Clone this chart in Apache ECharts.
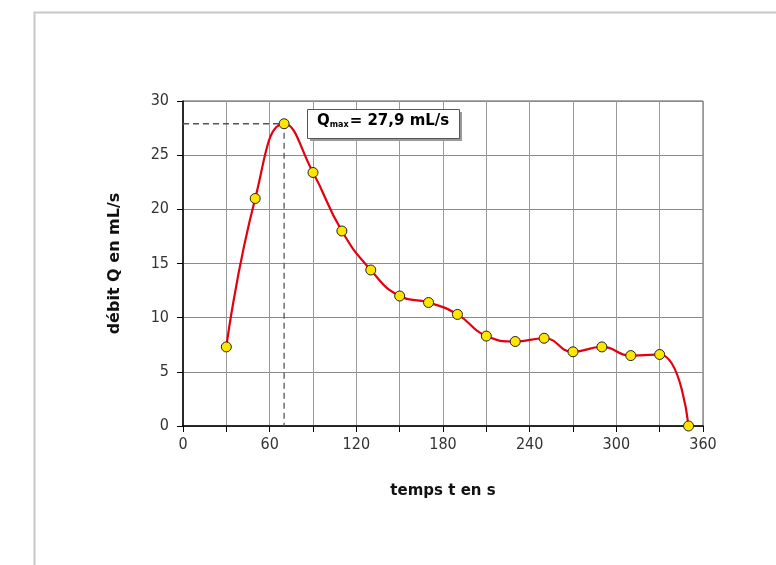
<!DOCTYPE html>
<html><head><meta charset="utf-8">
<script src="https://cdn.jsdelivr.net/npm/echarts@6/dist/echarts.min.js"></script>
<style>html,body{margin:0;padding:0;background:#fff}#c{width:776px;height:565px}</style>
</head><body><div id="c"></div>
<script>
const times = [30, 50, 70, 90, 110, 130, 150, 170, 190, 210, 230, 250, 270, 290, 310, 330, 350];
const debits = [7.3, 21.0, 27.9, 23.4, 18.0, 14.4, 12.0, 11.4, 10.3, 8.3, 7.8, 8.1, 6.85, 7.3, 6.5, 6.6, 0];
const peakT = 70;
const peakQ = 27.9;
const xTicks = [0, 60, 120, 180, 240, 300, 360];
const yTicks = [0, 5, 10, 15, 20, 25, 30];
const xTitle = 'temps t en s';
const yTitle = 'débit Q en mL/s';

const chart = echarts.init(document.getElementById('c'));
const font = "'Liberation Sans Narrow', 'DejaVu Sans Condensed', 'DejaVu Sans', sans-serif";
const boldFont = "'DejaVu Sans', sans-serif";
chart.setOption({
  animation: false,
  backgroundColor: '#fff',
  grid: { left: 183, right: 73, top: 101, bottom: 139, show: true, borderColor: '#555', borderWidth: 1 },
  xAxis: {
    type: 'value', min: 0, max: 360, interval: 30,
    name: xTitle, nameLocation: 'middle', nameGap: 58,
    nameTextStyle: { fontFamily: boldFont, fontWeight: 'bold', fontSize: 15, color: '#111' },
    axisLine: { show: true, lineStyle: { color: '#000', width: 1.5 } },
    axisTick: { show: true, length: 6, lineStyle: { color: '#000' } },
    axisLabel: { fontFamily: font, fontSize: 16, color: '#333', margin: 11,
      formatter: v => xTicks.indexOf(v) >= 0 ? String(v) : '' },
    splitLine: { show: true, lineStyle: { color: '#9a9a9a', width: 1 } }
  },
  yAxis: {
    type: 'value', min: 0, max: 30, interval: 5,
    name: yTitle, nameLocation: 'middle', nameGap: 60, nameRotate: 90,
    nameTextStyle: { fontFamily: boldFont, fontWeight: 'bold', fontSize: 16, color: '#111' },
    axisLine: { show: true, lineStyle: { color: '#000', width: 1.5 } },
    axisTick: { show: true, length: 6, lineStyle: { color: '#000' } },
    axisLabel: { fontFamily: font, fontSize: 16, color: '#333', margin: 14,
      formatter: v => yTicks.indexOf(v) >= 0 ? String(v) : '' },
    splitLine: { show: true, lineStyle: { color: '#8a8a8a', width: 1 } }
  },
  series: [
    {
      type: 'line',
      data: [[0, peakQ], [peakT, peakQ], [peakT, 0]],
      symbol: 'none',
      lineStyle: { color: '#555', width: 1.3, type: [6, 4] },
      silent: true, z: 2
    },
    {
      type: 'line',
      data: times.map((t, i) => [t, debits[i]]),
      smooth: 0.5,
      symbol: 'circle', symbolSize: 10,
      lineStyle: { color: '#e3000f', width: 2.2 },
      itemStyle: { color: '#ffe600', borderColor: '#222', borderWidth: 1 },
      z: 3
    }
  ],
  graphic: [
    { type: 'rect', left: 32, top: 10, shape: { width: 800, height: 600 },
      style: { fill: 'none', stroke: '#c8c8c8', lineWidth: 2 }, z: 0 },
    { type: 'rect', left: 310, top: 112, shape: { width: 152, height: 29 },
      style: { fill: '#9a9a9a' }, z: 10 },
    { type: 'rect', left: 307, top: 109, shape: { width: 152, height: 29 },
      style: { fill: '#fff', stroke: '#555', lineWidth: 1 }, z: 11 },
    { type: 'text', left: 317, top: 114, z: 12,
      style: {
        text: '{q|Q}{s|max}{q|= 27,9 mL/s}',
        rich: {
          q: { fontFamily: boldFont, fontWeight: 'bold', fontSize: 15, color: '#111', verticalAlign: 'bottom' },
          s: { fontFamily: boldFont, fontWeight: 'bold', fontSize: 8, color: '#111', padding: [10, 1, 0, 0], verticalAlign: 'bottom' }
        }
      } }
  ]
});
</script></body></html>
